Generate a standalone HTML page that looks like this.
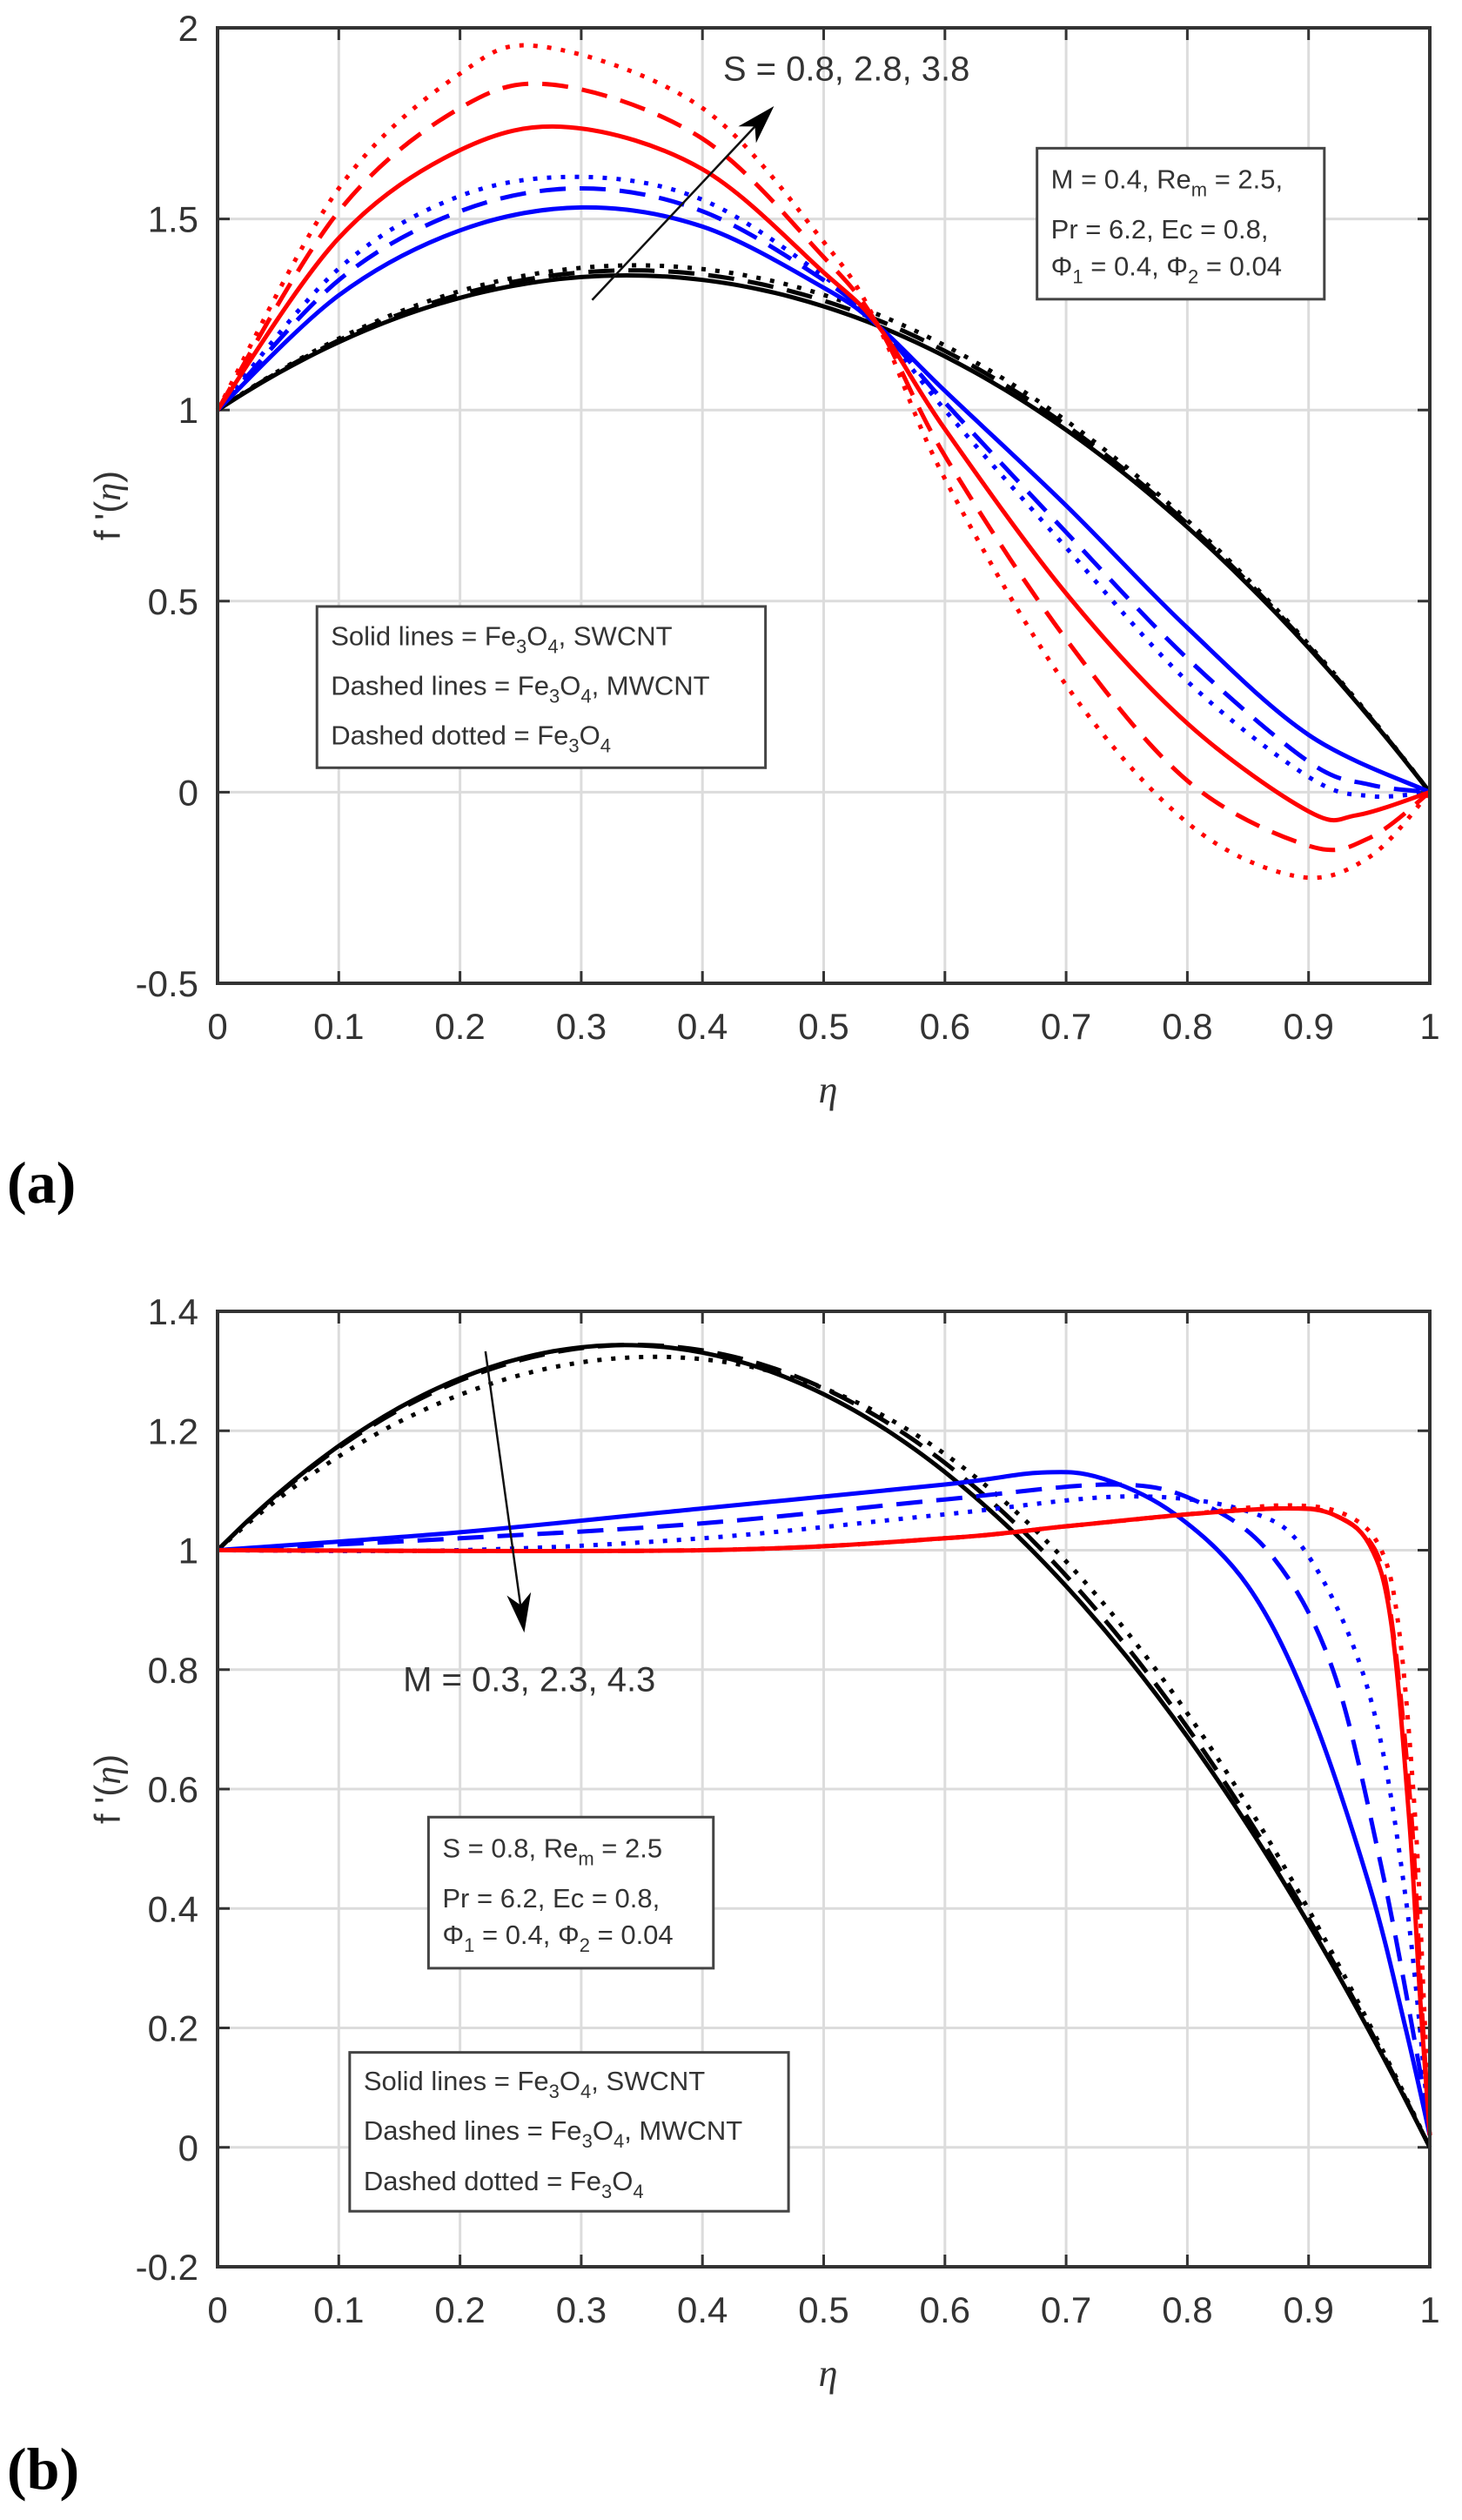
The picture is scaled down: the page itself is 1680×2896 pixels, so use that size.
<!DOCTYPE html>
<html><head><meta charset="utf-8">
<style>
html,body{margin:0;padding:0;background:#fff;}
svg{display:block;}
text{font-family:"Liberation Sans",sans-serif;fill:#333;}
.ser{font-family:"Liberation Serif",serif;}
</style></head>
<body>
<svg id="s" width="1680" height="2896" viewBox="0 0 1680 2896" xmlns="http://www.w3.org/2000/svg"></svg>
<script>
(function(){
const S=document.getElementById('s');
let out='';
const L=250,R=1643,W=R-L,H=1098;
function X(x){return L+W*x;}
function mk(tp,ymin,ymax){return y=>tp+H*(ymax-y)/(ymax-ymin);}
function path(pts,Y){
  const P=pts.map(p=>[X(p[0]),Y(p[1])]);
  let d='M'+P[0][0].toFixed(1)+','+P[0][1].toFixed(1);
  for(let i=0;i<P.length-1;i++){
    const p0=P[i-1]||P[i],p1=P[i],p2=P[i+1],p3=P[i+2]||P[i+1];
    const c1=[p1[0]+(p2[0]-p0[0])/6,p1[1]+(p2[1]-p0[1])/6];
    const c2=[p2[0]-(p3[0]-p1[0])/6,p2[1]-(p3[1]-p1[1])/6];
    d+='C'+c1.map(v=>v.toFixed(1)).join(',')+' '+c2.map(v=>v.toFixed(1)).join(',')+' '+p2.map(v=>v.toFixed(1)).join(',');
  }
  return d;
}
function curve(pts,Y,col,style){
  let da='';
  if(style==='d')da=' stroke-dasharray="30,16"';
  if(style==='o')da=' stroke-dasharray="5,11"';
  out+='<path d="'+path(pts,Y)+'" fill="none" stroke="'+col+'" stroke-width="5"'+da+'/>';
}
function axes(tp,ymin,ymax,step,labels){
  const Y=mk(tp,ymin,ymax);
  for(let i=1;i<10;i++)out+=`<line x1="${X(i/10)}" y1="${tp}" x2="${X(i/10)}" y2="${tp+H}" stroke="#dcdcdc" stroke-width="3"/>`;
  for(let k=0;k<labels.length;k++){const v=ymin+k*step;const y=Y(v);
    if(k>0&&k<labels.length-1)out+=`<line x1="${L}" y1="${y}" x2="${R}" y2="${y}" stroke="#dcdcdc" stroke-width="3"/>`;
    out+=`<line x1="${L}" y1="${y}" x2="${L+14}" y2="${y}" stroke="#333" stroke-width="3"/><line x1="${R-14}" y1="${y}" x2="${R}" y2="${y}" stroke="#333" stroke-width="3"/>`;
    out+=`<text x="228" y="${y+15}" font-size="42" text-anchor="end">${labels[k]}</text>`;
  }
  const xl=['0','0.1','0.2','0.3','0.4','0.5','0.6','0.7','0.8','0.9','1'];
  for(let i=0;i<=10;i++){const x=X(i/10);
    out+=`<line x1="${x}" y1="${tp+H-14}" x2="${x}" y2="${tp+H}" stroke="#333" stroke-width="3"/><line x1="${x}" y1="${tp}" x2="${x}" y2="${tp+14}" stroke="#333" stroke-width="3"/>`;
    out+=`<text x="${x}" y="${tp+H+64}" font-size="42" text-anchor="middle">${xl[i]}</text>`;}
  out+=`<text class="ser" x="${(L+R)/2+5}" y="${tp+H+137}" font-size="44" font-style="italic" text-anchor="middle">η</text>`;
  out+=`<text transform="translate(138,${tp+H/2}) rotate(-90)" font-size="42" text-anchor="middle">f '(<tspan class="ser" font-style="italic">η</tspan>)</text>`;
  return Y;
}
function box(x1,x2,y1,y2,Y){out+=`<rect x="${X(x1)}" y="${Y(y1)}" width="${X(x2)-X(x1)}" height="${Y(y2)-Y(y1)}" fill="#fff" stroke="#444" stroke-width="3"/>`;}
function arrow(x1,y1,x2,y2,Y){
  const a=[X(x1),Y(y1)],b=[X(x2),Y(y2)];
  const dx=b[0]-a[0],dy=b[1]-a[1],l=Math.hypot(dx,dy),ux=dx/l,uy=dy/l;
  out+=`<line x1="${a[0]}" y1="${a[1]}" x2="${b[0]-ux*20}" y2="${b[1]-uy*20}" stroke="#111" stroke-width="2.5"/>`;
  const p=[b[0]-ux*45+uy*14,b[1]-uy*45-ux*14],q=[b[0]-ux*45-uy*14,b[1]-uy*45+ux*14],m=[b[0]-ux*32,b[1]-uy*32];
  out+=`<polygon points="${b.join(',')} ${p.join(',')} ${m.join(',')} ${q.join(',')}" fill="#000"/>`;
}
function legend(x1,x2,y1,y2,ly,Y){
  box(x1,x2,y1,y2,Y);const tx=X(x1)+16;
  out+=`<text x="${tx}" y="${Y(ly[0])+11}" font-size="31">Solid lines = Fe<tspan font-size="22" dy="9">3</tspan><tspan dy="-9">O</tspan><tspan font-size="22" dy="9">4</tspan><tspan dy="-9">, SWCNT</tspan></text>`;
  out+=`<text x="${tx}" y="${Y(ly[1])+11}" font-size="31">Dashed lines = Fe<tspan font-size="22" dy="9">3</tspan><tspan dy="-9">O</tspan><tspan font-size="22" dy="9">4</tspan><tspan dy="-9">, MWCNT</tspan></text>`;
  out+=`<text x="${tx}" y="${Y(ly[2])+11}" font-size="31">Dashed dotted = Fe<tspan font-size="22" dy="9">3</tspan><tspan dy="-9">O</tspan><tspan font-size="22" dy="9">4</tspan></text>`;
}
function params(x1,x2,y1,y2,ly,first,Y){
  box(x1,x2,y1,y2,Y);const tx=X(x1)+16;
  out+=`<text x="${tx}" y="${Y(ly[0])+11}" font-size="31">${first} = ${first==='M'?'0.4':'0.8'}, Re<tspan font-size="22" dy="9">m</tspan><tspan dy="-9"> = 2.5${first==='M'?',':''}</tspan></text>`;
  out+=`<text x="${tx}" y="${Y(ly[1])+11}" font-size="31">Pr = 6.2, Ec = 0.8,</text>`;
  out+=`<text x="${tx}" y="${Y(ly[2])+11}" font-size="31">Φ<tspan font-size="22" dy="9">1</tspan><tspan dy="-9"> = 0.4, Φ</tspan><tspan font-size="22" dy="9">2</tspan><tspan dy="-9"> = 0.04</tspan></text>`;
}
function blk(off,sh){const p=[];for(let i=0;i<=40;i++){const x=i/40;p.push([x,(1-x)*(1+3.085*x)+off*Math.sin(Math.PI*x)+(sh||0)*Math.sin(2*Math.PI*x)]);}return p;}
// ---- plot a
let tp=32;
let Y=axes(tp,-0.5,2,0.5,['-0.5','0','0.5','1','1.5','2']);
curve(blk(0.03),Y,'#000','o');curve(blk(0.015),Y,'#000','d');curve(blk(0),Y,'#000','s');
curve([[0,1],[0.1,1.30],[0.2,1.47],[0.3,1.53],[0.4,1.48],[0.5,1.32],[0.545,1.22],[0.6,1.05],[0.7,0.75],[0.8,0.43],[0.9,0.15],[1,0]],Y,'#00f','s');
curve([[0,1],[0.1,1.34],[0.2,1.52],[0.3,1.58],[0.4,1.52],[0.5,1.34],[0.545,1.22],[0.6,1.02],[0.7,0.68],[0.8,0.35],[0.9,0.08],[0.95,0.02],[1,0]],Y,'#00f','d');
curve([[0,1],[0.1,1.37],[0.2,1.56],[0.3,1.61],[0.4,1.55],[0.5,1.35],[0.545,1.22],[0.6,1.0],[0.7,0.64],[0.8,0.29],[0.9,0.04],[0.95,-0.01],[1,0]],Y,'#00f','o');
curve([[0,1],[0.1,1.45],[0.2,1.68],[0.29,1.74],[0.4,1.63],[0.5,1.36],[0.545,1.22],[0.6,0.95],[0.7,0.52],[0.8,0.18],[0.9,-0.05],[0.94,-0.06],[1,0]],Y,'#f00','s');
curve([[0,1],[0.1,1.52],[0.2,1.79],[0.28,1.85],[0.4,1.71],[0.5,1.40],[0.545,1.22],[0.6,0.88],[0.7,0.40],[0.8,0.03],[0.9,-0.14],[0.95,-0.12],[1,0]],Y,'#f00','d');
curve([[0,1],[0.1,1.58],[0.2,1.88],[0.27,1.95],[0.4,1.79],[0.5,1.44],[0.545,1.22],[0.6,0.82],[0.7,0.28],[0.8,-0.08],[0.89,-0.22],[0.95,-0.17],[1,0]],Y,'#f00','o');
arrow(0.309,1.288,0.459,1.795,Y);
out+=`<text x="${X(0.417)}" y="${Y(1.894)+14}" font-size="40">S = 0.8, 2.8, 3.8</text>`;
params(0.676,0.913,1.685,1.29,[1.605,1.474,1.377],'M',Y);
legend(0.082,0.452,0.486,0.064,[0.41,0.28,0.15],Y);
out+=`<rect x="${L}" y="${tp}" width="${W}" height="${H}" fill="none" stroke="#333" stroke-width="4"/>`;
out+=`<text class="ser" x="8" y="1382" font-size="68" font-weight="bold" style="fill:#000">(a)</text>`;
// ---- plot b
tp=1507;
Y=axes(tp,-0.2,1.4,0.2,['-0.2','0','0.2','0.4','0.6','0.8','1','1.2','1.4']);
curve(blk(0,-0.035),Y,'#000','o');curve(blk(0,-0.01),Y,'#000','d');curve(blk(-0.01,0),Y,'#000','s');
curve([[0,1],[0.2,1.0],[0.4,1.02],[0.6,1.06],[0.75,1.09],[0.85,1.065],[0.9,0.99],[0.95,0.76],[0.98,0.42],[1,0.02]],Y,'#00f','o');
curve([[0,1],[0.2,1.02],[0.4,1.045],[0.6,1.085],[0.74,1.11],[0.81,1.08],[0.87,0.99],[0.92,0.80],[0.96,0.47],[0.99,0.15],[1,0.02]],Y,'#00f','d');
curve([[0,1],[0.2,1.03],[0.4,1.07],[0.6,1.11],[0.68,1.13],[0.73,1.12],[0.79,1.06],[0.85,0.94],[0.9,0.74],[0.95,0.44],[0.98,0.2],[1,0.02]],Y,'#00f','s');
curve([[0,1],[0.4,1.0],[0.6,1.02],[0.7,1.04],[0.8,1.06],[0.88,1.075],[0.93,1.06],[0.96,1.0],[0.975,0.86],[0.988,0.55],[0.995,0.25],[1,0.02]],Y,'#f00','o');
curve([[0,1],[0.4,1.0],[0.6,1.02],[0.7,1.04],[0.8,1.06],[0.88,1.07],[0.92,1.06],[0.955,1.0],[0.97,0.86],[0.985,0.55],[0.993,0.25],[1,0.02]],Y,'#f00','d');
curve([[0,1],[0.4,1.0],[0.6,1.02],[0.7,1.04],[0.8,1.06],[0.88,1.07],[0.92,1.06],[0.95,1.01],[0.968,0.88],[0.983,0.55],[0.992,0.25],[1,0.02]],Y,'#f00','s');
arrow(0.221,1.333,0.253,0.862,Y);
out+=`<text x="${X(0.153)}" y="${Y(0.784)+14}" font-size="40">M = 0.3, 2.3, 4.3</text>`;
params(0.174,0.409,0.553,0.300,[0.502,0.418,0.357],'S',Y);
legend(0.109,0.471,0.159,-0.107,[0.112,0.029,-0.056],Y);
out+=`<rect x="${L}" y="${tp}" width="${W}" height="${H}" fill="none" stroke="#333" stroke-width="4"/>`;
out+=`<text class="ser" x="8" y="2860" font-size="68" font-weight="bold" style="fill:#000">(b)</text>`;
S.innerHTML=out;
})();
</script>
</body></html>
